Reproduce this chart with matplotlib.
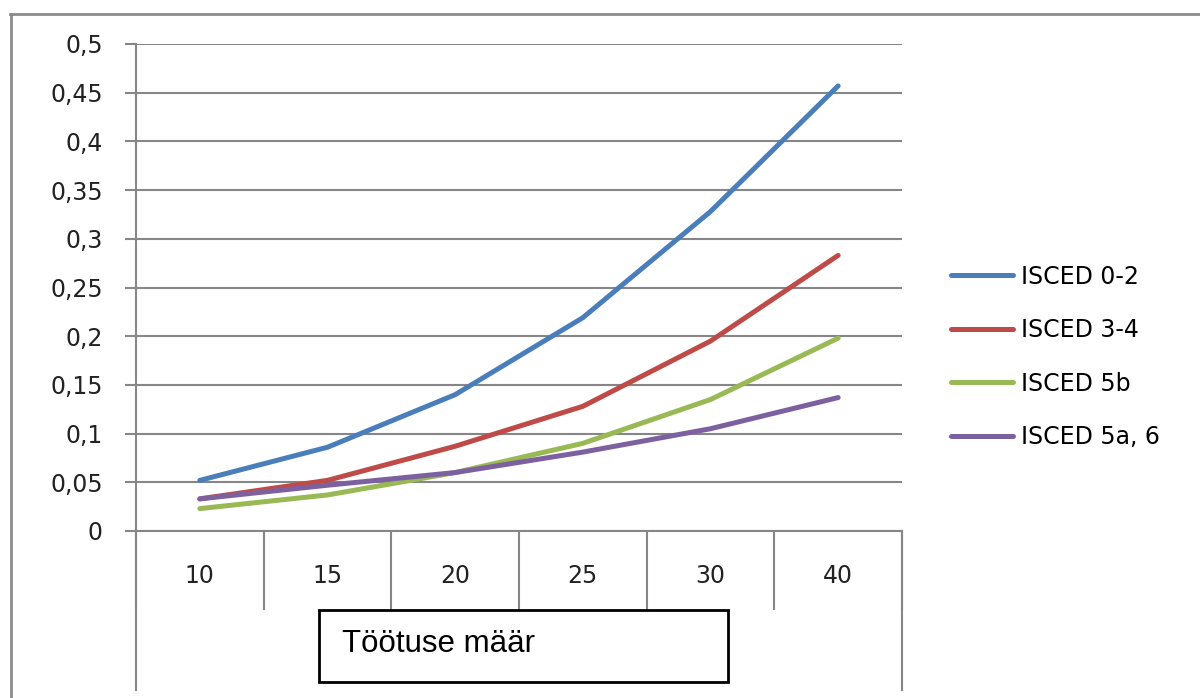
import matplotlib.pyplot as plt
from matplotlib.lines import Line2D
from matplotlib.patches import Rectangle
import matplotlib.ticker as mticker

categories = ["10", "15", "20", "25", "30", "40"]
isced_0_2 = [0.052, 0.086, 0.140, 0.219, 0.328, 0.457]
isced_3_4 = [0.033, 0.052, 0.087, 0.128, 0.195, 0.283]
isced_5b = [0.023, 0.037, 0.060, 0.090, 0.135, 0.198]
isced_5a_6 = [0.033, 0.047, 0.060, 0.081, 0.105, 0.137]
series_names = ["ISCED 0-2", "ISCED 3-4", "ISCED 5b", "ISCED 5a, 6"]
colors = ["#4A7EBB", "#BE4B48", "#98B954", "#7D60A0"]
yticks = [0, 0.05, 0.1, 0.15, 0.2, 0.25, 0.3, 0.35, 0.4, 0.45, 0.5]

W, H = 1200, 698
fig = plt.figure(figsize=(W / 100, H / 100), dpi=100)
plt.rcParams["font.family"] = "DejaVu Sans"

# plot area in pixels: x 136..902, y 44..531
ax = fig.add_axes([136 / W, 1 - 531 / H, (902 - 136) / W, (531 - 44) / H])

grey = "#868686"
x = list(range(len(categories)))
for vals, name, c in zip([isced_0_2, isced_3_4, isced_5b, isced_5a_6], series_names, colors):
    ax.plot(x, vals, color=c, linewidth=3.6, label=name, solid_capstyle="round", zorder=3)

ax.set_xlim(-0.5, len(categories) - 0.5)
ax.set_ylim(0, 0.5)
ax.set_yticks(yticks)
ax.yaxis.set_major_formatter(mticker.FuncFormatter(lambda v, p: ("%g" % v).replace(".", ",")))
ax.yaxis.grid(True, color=grey, linewidth=1.5)
ax.set_axisbelow(True)
ax.tick_params(axis="y", length=8, width=1.5, color=grey, pad=16, labelsize=17, labelcolor="#222222")

# category boundaries as major ticks, labels on minor ticks at centers
ax.set_xticks([i - 0.5 for i in range(len(categories) + 1)])
ax.set_xticklabels([])
ax.tick_params(axis="x", which="major", length=57, width=1.5, color=grey)
ax.set_xticks(x, minor=True)
ax.set_xticklabels(categories, minor=True)
ax.tick_params(axis="x", which="minor", length=0, pad=24, labelsize=17, labelcolor="#222222")

for s in ["top", "right"]:
    ax.spines[s].set_visible(False)
for s in ["left", "bottom"]:
    ax.spines[s].set_color(grey)
    ax.spines[s].set_linewidth(1.5)

# long outer lines of the category area
for xa in (0, 1):
    ax.add_line(Line2D([xa, xa], [0, -(690 - 531) / (531 - 44)], transform=ax.transAxes,
                       color=grey, linewidth=1.5, clip_on=False))

ax.legend(loc="center left", bbox_to_anchor=(930 / W, 1 - 357 / H), bbox_transform=fig.transFigure,
          frameon=False, fontsize=17, handlelength=2.6, labelspacing=1.25, handletextpad=0.35)

# outer chart border
fig.add_artist(Line2D([10 / W, 1], [1 - 14 / H, 1 - 14 / H], color="#8c8c8c", linewidth=2))
fig.add_artist(Line2D([11 / W, 11 / W], [0, 1 - 14 / H], color="#8c8c8c", linewidth=2))

# text box
fig.add_artist(Rectangle((319 / W, 1 - 682 / H), 409 / W, 72 / H, transform=fig.transFigure,
                         facecolor="white", edgecolor="black", linewidth=2, zorder=5))
fig.text(342 / W, 1 - 652 / H, "Töötuse määr", fontsize=22.5, family="Liberation Sans",
         va="baseline", ha="left", zorder=6)

fig.savefig("out.png", dpi=100)
